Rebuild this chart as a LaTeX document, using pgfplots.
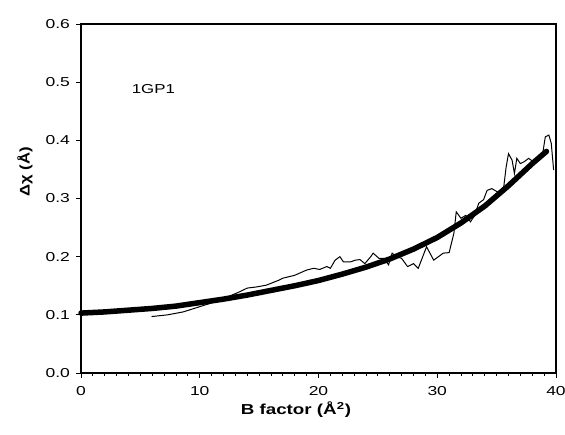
\documentclass[border=0pt]{standalone}
\usepackage{pgfplots}
\pgfplotsset{compat=1.18}
\usepackage{fontspec}
\setmainfont{Liberation Sans}
\begin{document}
\begin{tikzpicture}
\useasboundingbox (-81bp,-62bp) rectangle (484bp,373bp);
\begin{axis}[
  scale only axis,
  width=475bp, height=349bp,
  xmin=0, xmax=40, ymin=0, ymax=0.6,
  xtick={0,10,20,30,40},
  minor x tick num=9,
  ytick={0,0.1,0.2,0.3,0.4,0.5,0.6},
  yticklabel style={/pgf/number format/fixed,/pgf/number format/fixed zerofill,/pgf/number format/precision=1},
  /pgf/number format/assume math mode=true,
  tick align=outside,
  major tick length=5bp,
  minor tick length=3bp,
  xtick pos=bottom, ytick pos=left,
  tick label style={font=\fontsize{13}{15}\selectfont, black, xscale=1.35},
  xticklabel style={yshift=-5bp},
  yticklabel style={xshift=-1bp},
  axis line style={line width=1.1pt},
  every tick/.style={black, line width=0.8pt},
  xlabel={\textbf{B factor (Å\textsuperscript{2})}},
  ylabel={\textbf{Δχ (Å)}},
  x label style={at={(axis cs:18.1,0)}, anchor=center, yshift=-37bp, font=\fontsize{14.5}{16}\selectfont, xscale=1.3},
  y label style={at={(axis description cs:0,0.576)}, anchor=center, yshift=56bp, font=\fontsize{14}{16}\selectfont, xscale=1.2},
  clip=false,
]
\addplot[black, line width=5.5bp, line cap=round] coordinates {
(0,0.103) (2,0.105) (4,0.108) (6,0.111) (8,0.115) (10,0.121) (12,0.127) (14,0.134)
(16,0.142) (18,0.150) (20,0.159) (22,0.170) (24,0.182) (26,0.196) (28,0.213)
(30,0.233) (32,0.258) (34,0.287) (36,0.322) (38,0.360) (39.2,0.381)
};
\addplot[black, line width=1.0pt] coordinates {
(5.94,0.097) (7.3,0.100) (8.6,0.105) (10.0,0.114) (11.7,0.125) (13.4,0.140) (14.0,0.146)
(14.8,0.148) (15.6,0.151) (16.6,0.159) (17.0,0.163) (18.0,0.168) (19.0,0.177)
(19.6,0.180) (20.1,0.178) (20.7,0.183) (21.0,0.180) (21.4,0.194) (21.8,0.200)
(22.1,0.191) (22.7,0.191) (23.1,0.194) (23.5,0.195) (23.9,0.188) (24.4,0.200)
(24.6,0.206) (25.1,0.197) (25.5,0.197) (25.9,0.186) (26.2,0.206) (26.6,0.200)
(27.0,0.197) (27.5,0.183) (28.0,0.188) (28.4,0.180) (29.1,0.217) (29.7,0.194)
(30.1,0.200) (30.5,0.206) (31.0,0.207) (31.4,0.240) (31.6,0.277) (32.0,0.266)
(32.4,0.271) (32.8,0.260) (33.1,0.269) (33.5,0.292) (33.9,0.298) (34.2,0.314)
(34.6,0.317) (35.1,0.311) (35.6,0.320) (35.8,0.354) (36.0,0.377) (36.3,0.366)
(36.5,0.343) (36.7,0.369) (37.0,0.360) (37.3,0.363) (37.7,0.369) (38.1,0.363)
(38.6,0.375) (38.9,0.380) (39.1,0.406) (39.4,0.409) (39.6,0.395) (39.8,0.349)
};
\node[anchor=west, font=\fontsize{13}{15}\selectfont, xscale=1.3] at (axis cs:3.9,0.489) {1GP1};
\end{axis}
\end{tikzpicture}
\end{document}
